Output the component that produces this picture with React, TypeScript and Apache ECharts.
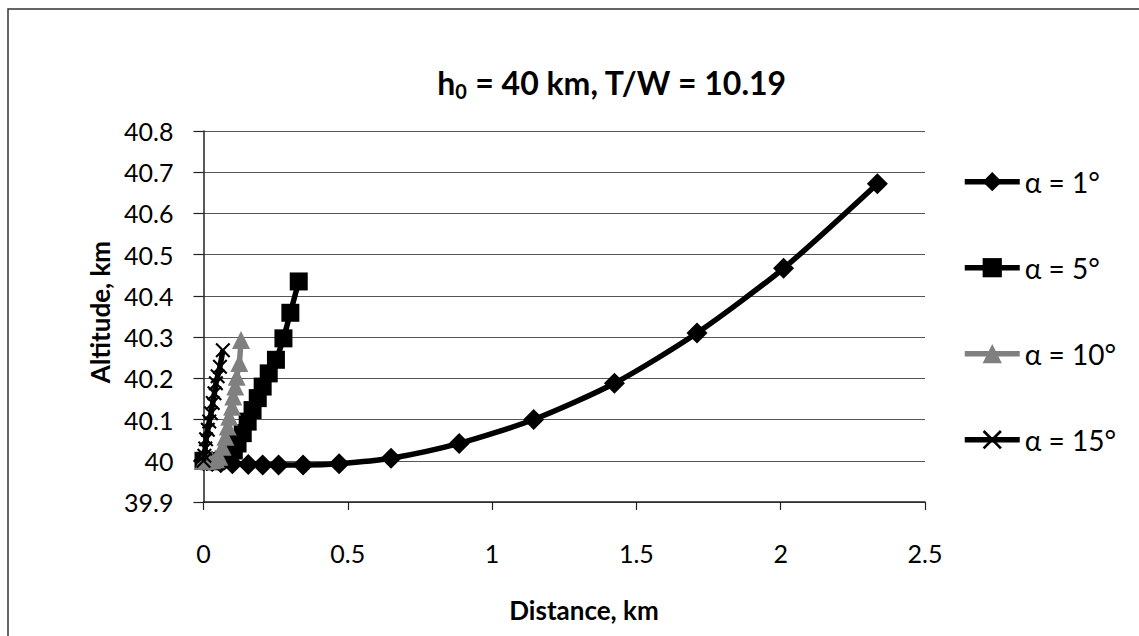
import React, { useEffect, useRef } from 'react';
import * as echarts from 'echarts';

// α = 1°
const dist1 = [0, 0.012, 0.03, 0.06, 0.1, 0.155, 0.205, 0.26, 0.345, 0.47, 0.65, 0.886, 1.144, 1.424, 1.71, 2.01, 2.335];
const alt1 = [40, 40.0, 39.998, 39.995, 39.993, 39.991, 39.99, 39.99, 39.99, 39.993, 40.006, 40.042, 40.1, 40.188, 40.31, 40.467, 40.672];
// α = 5°
const dist5 = [0, 0.02, 0.045, 0.07, 0.09, 0.105, 0.118, 0.136, 0.153, 0.17, 0.188, 0.205, 0.226, 0.251, 0.277, 0.301, 0.33];
const alt5 = [40, 39.999, 39.999, 40.003, 40.012, 40.025, 40.042, 40.067, 40.095, 40.123, 40.152, 40.18, 40.212, 40.245, 40.297, 40.359, 40.435];
// α = 10°
const dist10 = [0, 0.015, 0.03, 0.043, 0.055, 0.066, 0.076, 0.084, 0.089, 0.099, 0.103, 0.11, 0.115, 0.124, 0.13];
const alt10 = [40, 40.0, 40.001, 40.004, 40.01, 40.034, 40.058, 40.083, 40.107, 40.131, 40.156, 40.18, 40.204, 40.237, 40.293];
// α = 15°
const dist15 = [0, 0.003, 0.006, 0.009, 0.015, 0.02, 0.026, 0.032, 0.038, 0.043, 0.049, 0.057, 0.067];
const alt15 = [40, 40.012, 40.03, 40.052, 40.075, 40.095, 40.115, 40.14, 40.164, 40.188, 40.205, 40.228, 40.268];

const seriesNames = ['α = 1°', 'α = 5°', 'α = 10°', 'α = 15°'];
const xMin = 0, xMax = 2.5, xStep = 0.5;
const yMin = 39.9, yMax = 40.8, yStep = 0.1;

const pair = (xs: number[], ys: number[]) => xs.map((x, i) => [x, ys[i]]);

const crossPath = 'path://M0,1L1,0L5,4L9,0L10,1L6,5L10,9L9,10L5,6L1,10L0,9L4,5Z';

export default function App() {
  const ref = useRef<HTMLDivElement>(null);
  useEffect(() => {
    const chart = echarts.init(ref.current!, null, { renderer: 'svg' });
    const font = 'Lato, "DejaVu Sans", sans-serif';
    const mk = (name: string, data: number[][], color: string, symbol: string, size: number, z: number) => ({
      type: 'line',
      name,
      data,
      smooth: 0.25,
      symbol,
      symbolSize: size,
      showAllSymbol: true,
      z,
      lineStyle: { color, width: 5.5 },
      itemStyle: { color, borderColor: color, borderWidth: 0, opacity: 1 },
    });
    chart.setOption({
      animation: false,
      backgroundColor: '#ffffff',
      grid: { left: 203.5, right: 1139 - 925, top: 131, bottom: 636 - 502, containLabel: false },
      legend: {
        orient: 'vertical',
        left: 962,
        top: 166.7,
        padding: 0,
        itemWidth: 55,
        itemHeight: 24,
        itemGap: 56,
        lineStyle: { width: 5.5 },
        textStyle: { fontFamily: font, fontSize: 28, lineHeight: 30, color: '#000' },
        data: seriesNames,
      },
      xAxis: {
        type: 'value',
        min: xMin,
        max: xMax,
        interval: xStep,
        axisLine: { show: true, onZero: false, lineStyle: { color: '#222', width: 1.5 } },
        axisTick: { show: true, length: 8, lineStyle: { color: '#222', width: 1.2 } },
        axisLabel: { margin: 38, fontFamily: font, fontSize: 25, color: '#000', formatter: (v: number) => String(+v.toFixed(1)) },
        splitLine: { show: false },
      },
      yAxis: {
        type: 'value',
        min: yMin,
        max: yMax,
        interval: yStep,
        axisLine: { show: true, lineStyle: { color: '#222', width: 1.5 } },
        axisTick: { show: true, length: 10, lineStyle: { color: '#222', width: 1.2 } },
        axisLabel: { margin: 30, fontFamily: font, fontSize: 25, color: '#000', formatter: (v: number) => String(+v.toFixed(1)) },
        splitLine: { show: true, lineStyle: { color: '#555', width: 1 } },
      },
      graphic: [
        { type: 'rect', shape: { x: 8, y: 9, width: 1300, height: 800 }, style: { fill: 'none', stroke: '#333', lineWidth: 1.5 }, silent: true },
        {
          type: 'text', x: 612, y: 82,
          style: {
            text: '{a|h}{s|0}{a| = 40 km, T/W = 10.19}',
            textAlign: 'center',
            textVerticalAlign: 'middle',
            rich: {
              a: { fontFamily: font, fontSize: 32, fontWeight: 'bold', fill: '#000', lineHeight: 38 },
              s: { fontFamily: font, fontSize: 20, fontWeight: 'bold', fill: '#000', padding: [18, 0, 0, 0] },
            },
          },
        },
        {
          type: 'text', x: 100, y: 312, rotation: Math.PI / 2,
          style: { text: 'Altitude, km', fontFamily: font, fontSize: 26, fontWeight: 'bold', fill: '#000', textAlign: 'center', textVerticalAlign: 'middle' },
        },
        {
          type: 'text', x: 584, y: 610,
          style: { text: 'Distance, km', fontFamily: font, fontSize: 26, fontWeight: 'bold', fill: '#000', textAlign: 'center', textVerticalAlign: 'middle' },
        },
      ],
      series: [
        mk(seriesNames[0], pair(dist1, alt1), '#000000', 'diamond', 21, 2),
        mk(seriesNames[1], pair(dist5, alt5), '#000000', 'rect', 18, 3),
        mk(seriesNames[2], pair(dist10, alt10), '#808080', 'triangle', 18, 4),
        mk(seriesNames[3], pair(dist15, alt15), '#000000', crossPath, 15, 5),
      ],
    });
    return () => chart.dispose();
  }, []);
  return <div ref={ref} style={{ position: 'fixed', left: 0, top: 0, width: 1139, height: 636 }} />;
}
